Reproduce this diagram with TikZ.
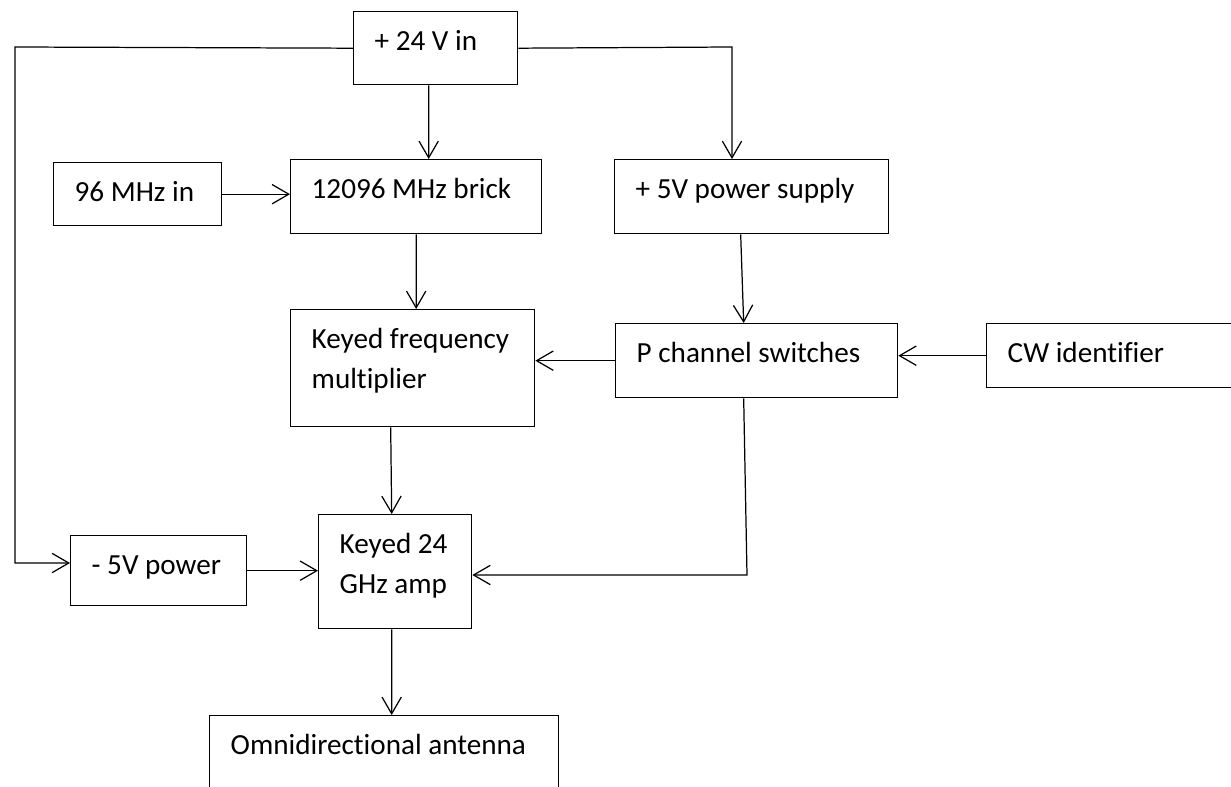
\documentclass[tikz,border=0pt]{standalone}
\usepackage{fontspec}
\setmainfont{Carlito}[Ligatures=NoCommon]
\usetikzlibrary{arrows.meta,calc}
\tikzstyle{block}=[draw,line width=0.8pt,inner xsep=0.42cm,inner ysep=0pt,anchor=north west,font=\fontsize{16.6}{22.8}\selectfont]
\tikzstyle{feed}=[line width=0.7pt,-{Straight Barb[length=9.5pt,width=11pt]}]
\newcommand{\blocktext}[3]{\parbox[c][#2][t]{#1}{\rule{0pt}{0.78cm}#3}}

\begin{document}
\begin{tikzpicture}[x=0.02cm,y=-0.02cm]

		\clip (0,0) rectangle (1231,787);

		% supplies and sources
		\node[block] (top24) at (353,11) {\blocktext{2.44cm}{1.46cm}{+ 24 V in}};
		\node[block] (mhz96) at (53,162) {\blocktext{2.52cm}{1.26cm}{96 MHz in}};
		\node[block] (brick) at (290,159) {\blocktext{4.18cm}{1.48cm}{12096 MHz brick}};
		\node[block] (p5v) at (614,159) {\blocktext{4.64cm}{1.48cm}{+ 5V power supply}};

		% keying
		\node[block] (kfm) at (290,309) {\blocktext{4.04cm}{2.34cm}{Keyed frequency\\multiplier}};
		\node[block] (pch) at (615,323) {\blocktext{4.80cm}{1.48cm}{P channel switches}};
		\node[block] (cw) at (986,323) {\blocktext{4.24cm}{1.28cm}{CW identifier}};

		% output
		\node[block] (n5v) at (70,535) {\blocktext{2.68cm}{1.40cm}{- 5V power}};
		\node[block] (amp) at (318,514) {\blocktext{2.22cm}{2.28cm}{Keyed 24\\GHz amp}};
		\node[block] (ant) at (209,715) {\blocktext{6.14cm}{2.00cm}{Omnidirectional antenna}};

		% corners
		\coordinate (lefttop) at (15,47);
		\coordinate (leftbot) at (15,563);
		\coordinate (righttop) at (732,47);
		\coordinate (pchturn) at (747,575);

		% connections
		\draw[feed] (top24.west) -- (lefttop) -- (leftbot) -- (leftbot -| n5v.west);
		\draw[feed] (top24.east) -- (righttop) -- (righttop |- p5v.north);
		\draw[feed] ([xshift=-0.14cm]top24.south) -- ([xshift=0.25cm]brick.north);
		\draw[feed] (mhz96.east) -- (mhz96.east -| brick.west);
		\draw[feed] (brick.south) -- ([xshift=0.07cm]kfm.north);
		\draw[feed] ([xshift=-0.22cm]p5v.south) -- ([xshift=-0.26cm]pch.north);
		\draw[feed] (cw.west) -- (cw.west -| pch.east);
		\draw[feed] (pch.west) -- (pch.west -| kfm.east);
		\draw[feed] ([xshift=-0.44cm]kfm.south) -- ([xshift=-0.07cm]amp.north);
		\draw[feed] (n5v.east) -- (n5v.east -| amp.west);
		\draw[feed] ([xshift=-0.26cm]pch.south) -- (pchturn) -- (pchturn -| amp.east);
		\draw[feed] ([xshift=-0.07cm]amp.south) -- ([xshift=0.15cm]ant.north);

\end{tikzpicture}
\end{document}
